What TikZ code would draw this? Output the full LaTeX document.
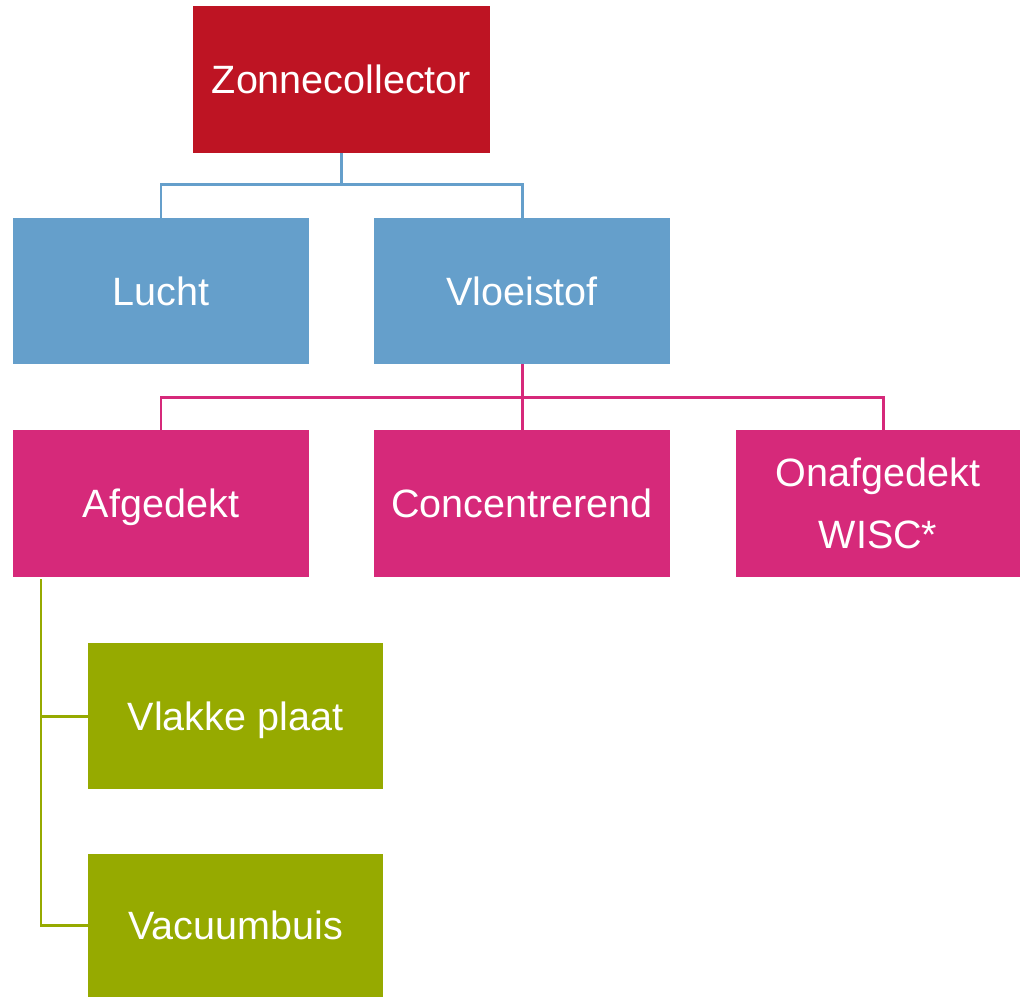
\documentclass[tikz,border=0pt]{standalone}
\usepackage{fontspec}
\setmainfont{Liberation Sans}
\definecolor{zonred}{RGB}{190,20,35}
\definecolor{zonblue}{RGB}{101,159,203}
\definecolor{zonpink}{RGB}{214,41,122}
\definecolor{zongreen}{RGB}{150,170,0}
\begin{document}
\begin{tikzpicture}[x=0.02cm,y=-0.02cm,
    box/.style={rectangle,inner sep=0pt,minimum width=5.92cm,minimum height=2.92cm,
      text=white,align=center,font=\fontsize{22.5}{35}\selectfont},
    oneline/.style={box,text height=16pt,text depth=0pt},
    link/.style={line width=1.7pt}]
      \useasboundingbox (0,0) rectangle (1020,997);
      \node [oneline,fill=zonred,minimum width=5.94cm,minimum height=2.94cm] (zonne) at (341.5,79.5) {Zonnecollector};
      \node [oneline,fill=zonblue] (lucht) at (161,291) {Lucht};
      \node [oneline,fill=zonblue] (vloei) at (522,291) {Vloeistof};
      \node [oneline,fill=zonpink,minimum height=2.94cm] (afged) at (161,503.5) {Afgedekt};
      \node [oneline,fill=zonpink,minimum height=2.94cm] (conc) at (522,503.5) {Concentrerend};
      \node [box,fill=zonpink,minimum width=5.68cm,minimum height=2.94cm] (onaf) at (878,503.5) {Onafgedekt\\WISC*};
      \node [oneline,fill=zongreen,minimum width=5.9cm] (vlak) at (235.5,716) {Vlakke plaat};
      \node [oneline,fill=zongreen,minimum width=5.9cm,minimum height=2.86cm] (vacu) at (235.5,925.5) {Vacuumbuis};
      \coordinate (spine) at (41,579);
      \draw [link,zonblue] (zonne.south) -- ++(0,31) -| (lucht.north);
      \draw [link,zonblue] (zonne.south) ++(0,31) -| (vloei.north);
      \draw [link,zonpink] (vloei.south) -- ++(0,33) -| (afged.north);
      \draw [link,zonpink] (vloei.south) -- (conc.north);
      \draw [link,zonpink] (vloei.south) ++(0,33) -| ([xshift=0.1cm]onaf.north);
      \draw [link,zongreen] (spine) |- (vlak.west);
      \draw [link,zongreen] (spine) |- (vacu.west);
    \end{tikzpicture}
\end{document}
